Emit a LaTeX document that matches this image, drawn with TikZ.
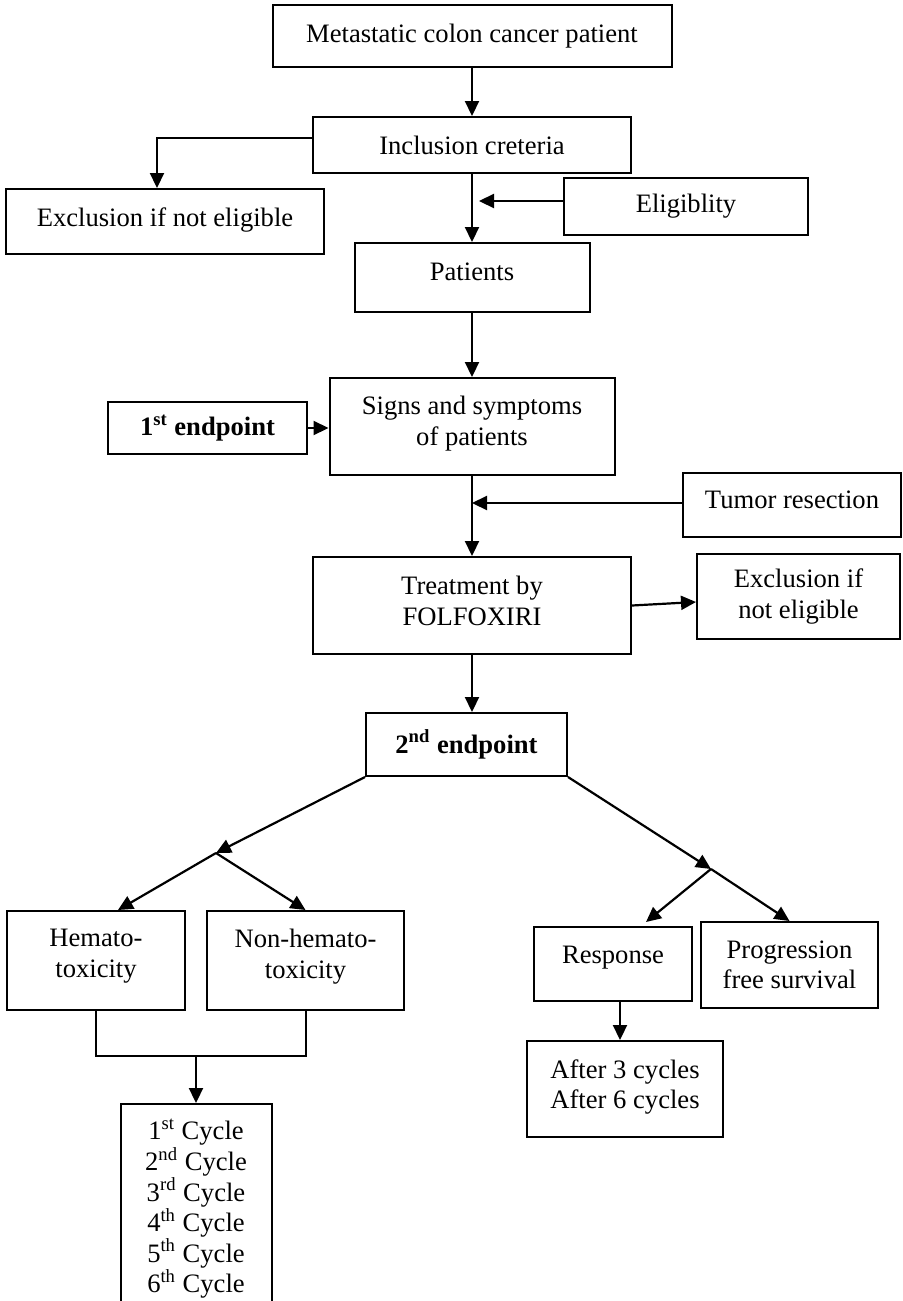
\documentclass[tikz,border=0pt]{standalone}
\usepackage{fontspec}
\setmainfont{Liberation Serif}
\usetikzlibrary{arrows.meta}
\newcommand{\dn}[1]{\rule[-#1]{0pt}{#1}}

\begin{document}
\begin{tikzpicture}[x=0.5pt,y=-0.5pt,font=\fontsize{13.3}{15.3}\selectfont]
  \tikzstyle{box}=[draw,line width=1pt,align=center,inner sep=0pt]
  \tikzstyle{arr}=[line width=1.1pt,-{Triangle[length=7.5pt,width=7pt]}]
  \useasboundingbox (0,0) rectangle (902,1301);
  \clip (0,0) rectangle (902,1301);
  \node[box,minimum width=199.5pt,minimum height=31pt] (mcc) at (472,36) {Metastatic colon cancer patient};
  \node[box,minimum width=159pt,minimum height=28pt] (incl) at (472,145) {Inclusion creteria};
  \node[box,minimum width=159pt,minimum height=32.5pt] (excl) at (165,221.5) {Exclusion if not eligible\dn{4pt}};
  \node[box,minimum width=122pt,minimum height=28.5pt] (elig) at (686,206.5) {Eligiblity};
  \node[box,minimum width=117.5pt,minimum height=34.5pt] (pts) at (472,277.5) {Patients\dn{6pt}};
  \node[box,minimum width=142.5pt,minimum height=48.5pt] (signs) at (472,426.5) {Signs and symptoms\\of patients\dn{6pt}};
  \node[box,minimum width=99.5pt,minimum height=26pt] (first) at (207.5,428) {\textbf{1\textsuperscript{st} endpoint}};
  \node[box,minimum width=109pt,minimum height=32pt] (tumor) at (792,505) {Tumor resection\dn{5pt}};
  \node[box,minimum width=159pt,minimum height=48.5pt] (treat) at (472,605.5) {Treatment by\\FOLFOXIRI\dn{5pt}};
  \node[box,minimum width=101.5pt,minimum height=42.5pt] (excl2) at (798.5,596.5) {Exclusion if\\not eligible};
  \node[box,minimum width=100.5pt,minimum height=31.5pt] (second) at (466.5,744.5) {\textbf{2\textsuperscript{nd} endpoint}};
  \node[box,minimum width=89pt,minimum height=49.5pt] (hemato) at (96,960.5) {Hemato-\\toxicity\dn{7pt}};
  \node[box,minimum width=98.5pt,minimum height=49.5pt] (nonhem) at (305.5,960.5) {Non-hemato-\\toxicity\dn{7pt}};
  \node[box,minimum width=75.5pt,inner ysep=7.5pt,anchor=north] (cycles) at (196,1103)
    {1\textsuperscript{st} Cycle\\2\textsuperscript{nd} Cycle\\3\textsuperscript{rd} Cycle\\4\textsuperscript{th} Cycle\\5\textsuperscript{th} Cycle\\6\textsuperscript{th} Cycle};
  \node[box,minimum width=79pt,minimum height=37pt] (resp) at (613,964) {Response\dn{9pt}};
  \node[box,minimum width=88.5pt,minimum height=43pt] (pfs) at (789.5,965) {Progression\\free survival};
  \node[box,minimum width=98pt,minimum height=48pt] (after) at (625,1089) {After 3 cycles\\After 6 cycles\dn{5pt}};
  \coordinate (lsplit) at (216,853);
  \coordinate (rsplit) at (711,869);
  \coordinate (join) at (196,1056);
  % main column
  \draw[arr] (mcc.south) -- (incl.north);
  \draw[arr] ([yshift=3.5pt]incl.west) -| ([xshift=-4pt]excl.north);
  \draw[arr] (incl.south) -- (pts.north);
  \draw[arr] ([yshift=2.75pt]elig.west) -- ([xshift=3.5pt,yshift=2.75pt]elig.west -| incl.south);
  \draw[arr] (pts.south) -- (signs.north);
  \draw[arr] (first.east) -- (first.east -| signs.west);
  \draw[arr] (signs.south) -- (treat.north);
  \draw[arr] ([yshift=1pt]tumor.west) -- ([yshift=1pt]tumor.west -| signs.south);
  \draw[arr] (treat.east) -- ([yshift=-2.75pt]excl2.west);
  \draw[arr] (treat.south) -- (treat.south |- second.north);
  % branches
  \draw[arr] (second.south west) -- (lsplit);
  \draw[arr] (lsplit) -- ([xshift=11pt]hemato.north);
  \draw[arr] (lsplit) -- (nonhem.north);
  \draw[arr] (second.south east) -- (rsplit);
  \draw[arr] (rsplit) -- ([xshift=16.5pt,yshift=2pt]resp.north);
  \draw[arr] (rsplit) -- (pfs.north);
  \draw[line width=1pt] (hemato.south) |- (join) -| (nonhem.south);
  \draw[arr] (join) -- (join |- cycles.north);
  \draw[arr] ([xshift=3.5pt]resp.south) -- ([xshift=3.5pt]resp.south |- after.north);
\end{tikzpicture}
\end{document}
